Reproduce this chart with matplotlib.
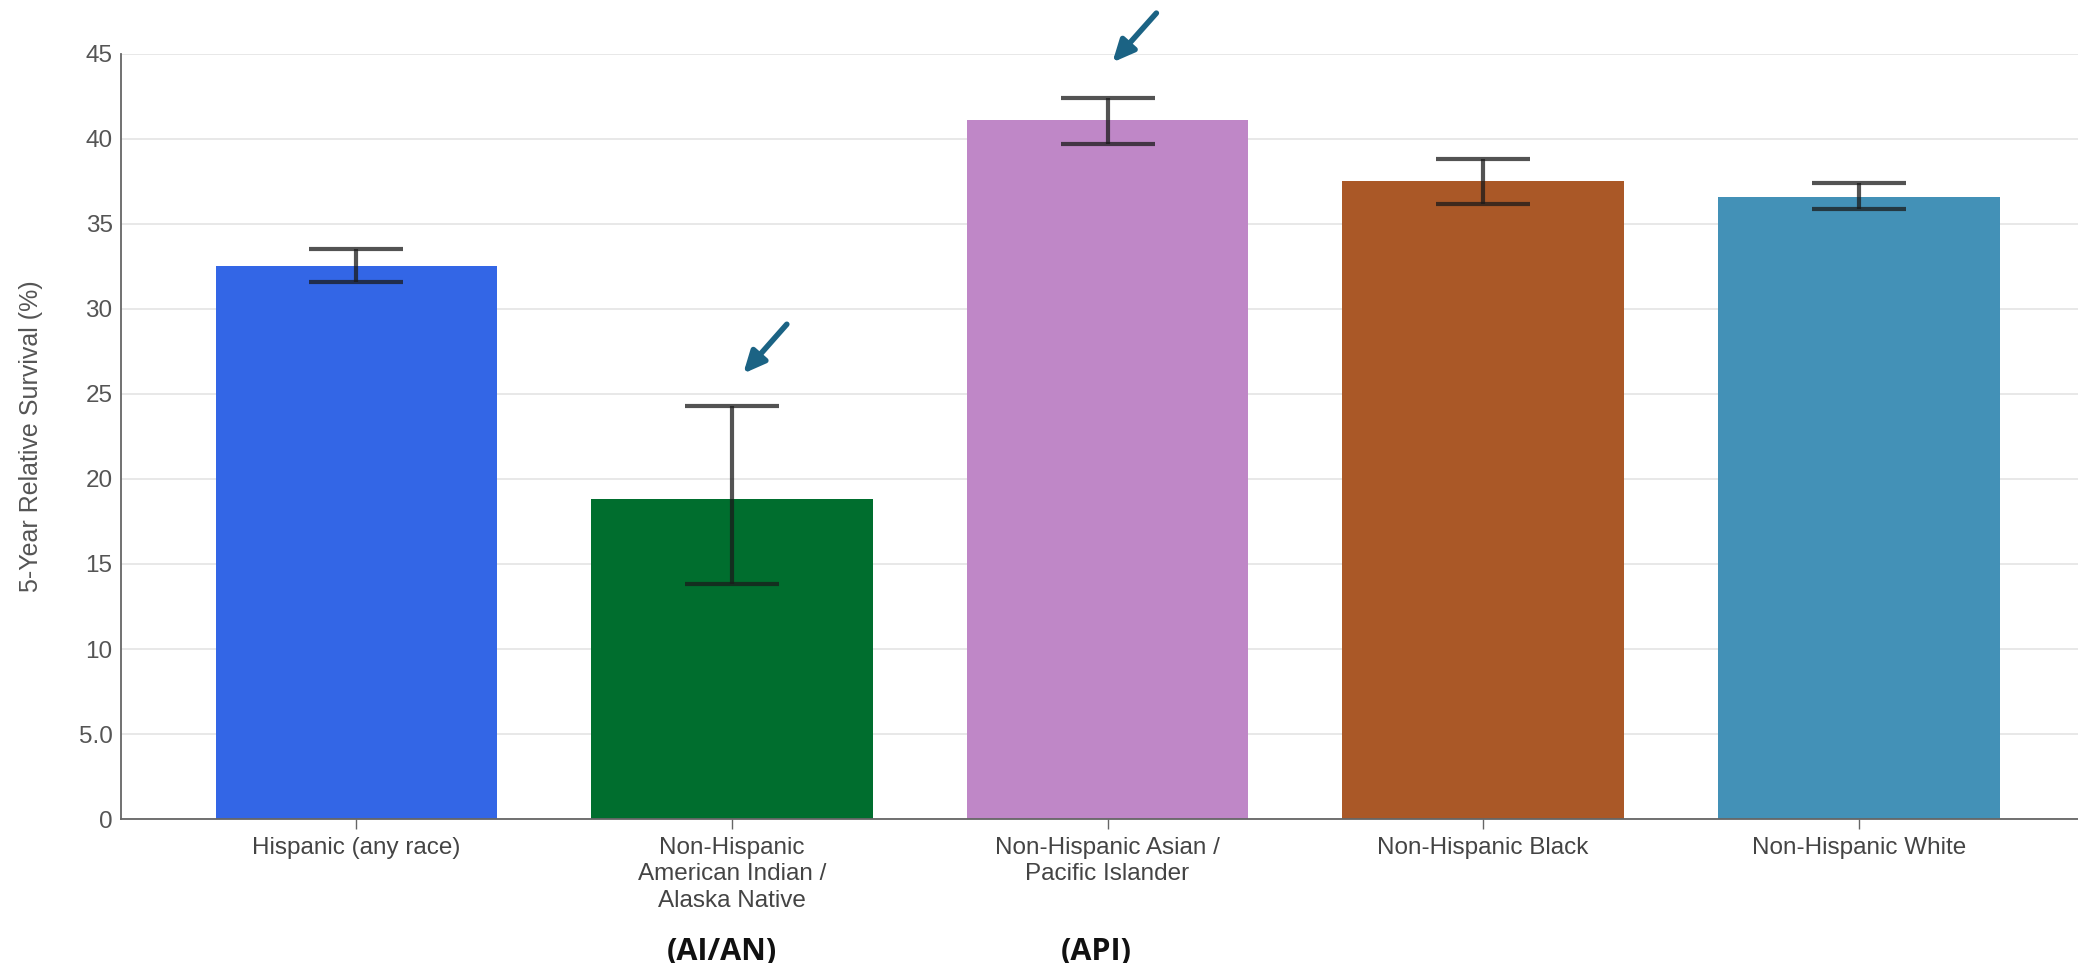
import matplotlib.pyplot as plt
import numpy as np

# 5-year relative survival by race/ethnicity
groups = ['Hispanic (any race)',
          'Non-Hispanic\nAmerican Indian /\nAlaska Native',
          'Non-Hispanic Asian /\nPacific Islander',
          'Non-Hispanic Black',
          'Non-Hispanic White']
survival = [32.5, 18.8, 41.1, 37.5, 36.6]
ci_low = [31.6, 13.8, 39.7, 36.2, 35.9]
ci_high = [33.5, 24.3, 42.4, 38.8, 37.4]
bar_colors = ['#3366E6', '#006E2E', '#BF87C7', '#AA5827', '#4391B7']
yticks = [0, 5, 10, 15, 20, 25, 30, 35, 40, 45]
ytick_labels = ['0', '5.0', '10', '15', '20', '25', '30', '35', '40', '45']

plt.rcParams['font.family'] = ['Liberation Sans', 'DejaVu Sans']

fig = plt.figure(figsize=(20.78, 9.63), dpi=100)
ax = fig.add_axes([0.0582, 0.1495, 0.9418, 0.7945])

x = np.arange(len(groups))
ax.bar(x, survival, width=0.75, color=bar_colors, linewidth=0, zorder=2)

err = [np.array(survival) - np.array(ci_low), np.array(ci_high) - np.array(survival)]
ax.errorbar(x, survival, yerr=err, fmt='none', ecolor='#1a1a1a', alpha=0.75,
            elinewidth=3, capsize=34, capthick=3, zorder=3)

ax.set_xlim(-0.627, 4.584)
ax.set_ylim(0, 45)
ax.set_yticks(yticks)
ax.set_yticklabels(ytick_labels)
ax.set_xticks(x)
ax.set_xticklabels(groups, linespacing=1.25)

ax.grid(axis='y', color='#e6e6e6', linewidth=1.3, zorder=0)
ax.set_axisbelow(True)
for side in ['top', 'right']:
    ax.spines[side].set_visible(False)
ax.spines['left'].set_color('#666666')
ax.spines['bottom'].set_color('#666666')
ax.spines['left'].set_linewidth(1.3)
ax.spines['bottom'].set_linewidth(1.3)

ax.tick_params(axis='y', length=0, labelsize=17.5, labelcolor='#555555', pad=6)
ax.tick_params(axis='x', length=7, width=1, color='#666666', labelsize=17.5,
               labelcolor='#444444', pad=6)
ax.set_ylabel('5-Year Relative Survival (%)', fontsize=18, color='#555555', labelpad=26)

# arrows pointing at AI/AN and API error bars
arrow_style = dict(arrowstyle='-|>,head_length=1.3,head_width=0.6', color='#1B6384', lw=4,
                   shrinkA=0, shrinkB=0)
ax.annotate('', xy=(1.03, 26.2), xytext=(1.146, 29.1), arrowprops=arrow_style,
            annotation_clip=False)
ax.annotate('', xy=(2.013, 44.5), xytext=(2.13, 47.4), arrowprops=arrow_style,
            annotation_clip=False)

fig.text(722 / 2078, 1 - 952 / 963, '(AI/AN)', ha='center', va='center', fontsize=22,
         fontweight='bold', family='Open Sans', color='#111111')
fig.text(1096 / 2078, 1 - 952 / 963, '(API)', ha='center', va='center', fontsize=22,
         fontweight='bold', family='Open Sans', color='#111111')

fig.savefig('out.png', dpi=100, facecolor='white')
